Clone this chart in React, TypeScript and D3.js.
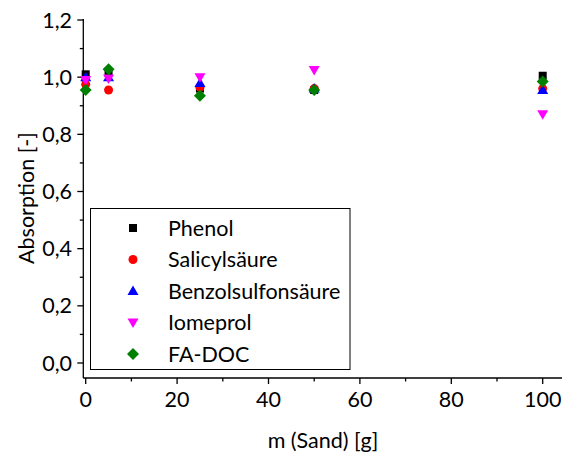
import React from "react";
import * as d3 from "d3";

const xValues = [0, 5, 25, 50, 100];
const phenol = [1.01, 1.015, 0.96, 0.955, 1.005];
const salicyl = [0.975, 0.955, 0.965, 0.96, 0.96];
const benzol = [1.0, 1.0, 0.98, 0.96, 0.955];
const iomeprol = [0.99, 0.995, 1.0, 1.025, 0.87];
const fadoc = [0.955, 1.028, 0.935, 0.955, 0.985];
const seriesNames = ["Phenol", "Salicylsäure", "Benzolsulfonsäure", "Iomeprol", "FA-DOC"];
const seriesColors = ["#000000", "#ff0000", "#0000ff", "#ff00ff", "#008000"];
const seriesShapes = ["square", "circle", "triangle", "triangleDown", "diamond"];
const xTicks = [0, 20, 40, 60, 80, 100];
const yTicks = [0, 0.2, 0.4, 0.6, 0.8, 1.0, 1.2];

const W = 562, H = 456;
const FONT = "Lato, 'Open Sans', sans-serif";
const FS = 21.5;

function Marker({ shape, x, y, color }: { shape: string; x: number; y: number; color: string }) {
  if (shape === "square") return <rect x={x - 4} y={y - 4} width={8} height={8} fill={color} />;
  if (shape === "circle") return <circle cx={x} cy={y} r={4.5} fill={color} />;
  if (shape === "triangle") return <path d={`M${x},${y - 5.5} L${x + 5.5},${y + 4} L${x - 5.5},${y + 4} Z`} fill={color} />;
  if (shape === "triangleDown") return <path d={`M${x},${y + 5.5} L${x + 5.5},${y - 4} L${x - 5.5},${y - 4} Z`} fill={color} />;
  return <path d={`M${x},${y - 6} L${x + 6},${y} L${x},${y + 6} L${x - 6},${y} Z`} fill={color} />;
}

export default function App() {
  const x = d3.scaleLinear().domain([0, 100]).range([85.7, 542.7]);
  const y = d3.scaleLinear().domain([0, 1.2]).range([363, 20]);
  const axisX0 = 83.3, axisY0 = 378;
  const series = [phenol, salicyl, benzol, iomeprol, fadoc];
  const fmt = (v: number) => v.toFixed(1).replace(".", ",");
  const xMinor = d3.range(10, 101, 20);
  const yMinor = d3.range(0.1, 1.2, 0.2);
  return (
    <svg width={W} height={H} style={{ position: "absolute", left: 0, top: 0, background: "#fff" }} fontFamily={FONT}>
      <rect width={W} height={H} fill="#fff" />
      {/* axes */}
      <line x1={axisX0} x2={axisX0} y1={y(1.2) - 1} y2={axisY0} stroke="#000" strokeWidth={1.3} />
      <line x1={axisX0} x2={W + 5} y1={axisY0} y2={axisY0} stroke="#000" strokeWidth={1.3} />
      {yTicks.map((t) => (
        <g key={"yt" + t}>
          <line x1={axisX0 - 6} x2={axisX0} y1={y(t)} y2={y(t)} stroke="#000" strokeWidth={1.3} />
          <text x={72} y={y(t)} dy="0.35em" textAnchor="end" fontSize={FS} fill="#000">{fmt(t)}</text>
        </g>
      ))}
      {yMinor.map((t) => (
        <line key={"ym" + t} x1={axisX0 - 3.5} x2={axisX0} y1={y(t)} y2={y(t)} stroke="#000" strokeWidth={1.3} />
      ))}
      {xTicks.map((t) => (
        <g key={"xt" + t}>
          <line x1={x(t)} x2={x(t)} y1={axisY0} y2={axisY0 + 6} stroke="#000" strokeWidth={1.3} />
          <text x={x(t)} y={407} textAnchor="middle" fontSize={FS} fill="#000">{t}</text>
        </g>
      ))}
      {xMinor.map((t) => (
        <line key={"xm" + t} x1={x(t)} x2={x(t)} y1={axisY0} y2={axisY0 + 3.5} stroke="#000" strokeWidth={1.3} />
      ))}
      <text x={323} y={448} textAnchor="middle" fontSize={FS} fill="#000">m (Sand) [g]</text>
      <text transform={`translate(34,198) rotate(-90)`} textAnchor="middle" fontSize={FS} fill="#000">Absorption [-]</text>
      {/* data */}
      {series.map((s, si) =>
        s.map((v, i) => (
          <Marker key={si + "-" + i} shape={seriesShapes[si]} x={x(xValues[i])} y={y(v)} color={seriesColors[si]} />
        ))
      )}
      {/* legend */}
      <rect x={90.5} y={208.5} width={259.5} height={161} fill="#fff" stroke="#000" strokeWidth={1} />
      {seriesNames.map((n, i) => {
        const ly = 228 + i * 31.5;
        return (
          <g key={"lg" + i}>
            <Marker shape={seriesShapes[i]} x={133} y={ly} color={seriesColors[i]} />
            <text x={168} y={ly} dy="0.35em" fontSize={FS} fill="#000">{n}</text>
          </g>
        );
      })}
    </svg>
  );
}
